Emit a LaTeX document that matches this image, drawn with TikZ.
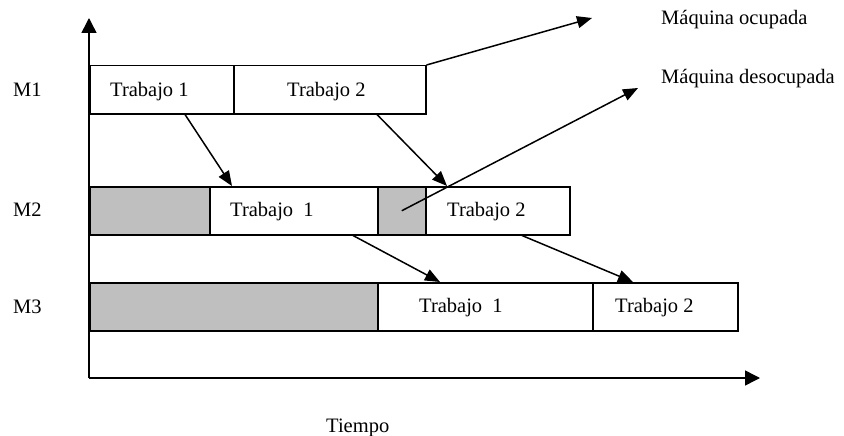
\documentclass[tikz,border=0pt]{standalone}
\usepackage{fontspec}
\setmainfont{Liberation Serif}
\usetikzlibrary{arrows.meta}
\begin{document}
\begin{tikzpicture}[x=1pt,y=-1pt,
  every node/.style={font=\fontsize{20.5}{24}\selectfont},
  job/.style={draw, line width=1.5pt, minimum height=48pt, inner sep=0pt, anchor=north west},
  idle/.style={job, fill=gray!50},
  lbl/.style={anchor=base west, inner sep=0pt},
  link/.style={line width=1.5pt, -{Triangle[length=15pt,width=12pt]}},
  axis/.style={line width=1.5pt, -{Triangle[length=15pt,width=15pt]}}]
\useasboundingbox (0,0) rectangle (844,436);

% axes
\coordinate (o) at (89,378);
\coordinate (ytip) at (89,18);
\coordinate (xtip) at (760,378);
\draw[axis] (o) -- (ytip);
\draw[axis] (o) -- (xtip);

% machine 1
\node[job, minimum width=144pt] (a1) at (89,65) {};
\node[job, minimum width=192pt] (a2) at (233,65) {};
% machine 2
\node[idle, minimum width=120pt] (b0) at (89,186) {};
\node[job, minimum width=168pt] (b1) at (209,186) {};
\node[idle, minimum width=48pt] (bg) at (377,186) {};
\node[job, minimum width=144pt] (b2) at (425,186) {};
% machine 3
\node[idle, minimum width=288pt] (c0) at (89,282) {};
\node[job, minimum width=215pt] (c1) at (377,282) {};
\node[job, minimum width=145pt] (c2) at (592,282) {};

% job texts
\node[lbl] (ta1) at (110,96.7) {Trabajo 1};
\node[lbl] (ta2) at (287,96.7) {Trabajo 2};
\node[lbl] (tb1) at (230,216.7) {Trabajo\ \ 1};
\node[lbl] (tb2) at (447,216.7) {Trabajo 2};
\node[lbl] (tc1) at (419,312) {Trabajo\ \ 1};
\node[lbl] (tc2) at (615,312) {Trabajo 2};

% machine names
\node[lbl] (m1) at (13,96.7) {M1};
\node[lbl] (m2) at (13,216.7) {M2};
\node[lbl] (m3) at (13,313) {M3};

% time label and legend
\node[lbl] (tiempo) at (326,432) {Tiempo};
\node[lbl] (ocup) at (661,25) {Máquina ocupada};
\node[lbl] (desoc) at (661,84) {Máquina desocupada};
\coordinate (pocup) at (592,18);
\coordinate (pdesoc) at (638,88);

% job precedence
\draw[link] ([xshift=96pt]a1.south west) -- ([xshift=23pt]b1.north west);
\draw[link] ([xshift=144pt]a2.south west) -- ([xshift=22pt]b2.north west);
\draw[link] ([xshift=144pt]b1.south west) -- ([xshift=63pt]c1.north west);
\draw[link] ([xshift=97pt]b2.south west) -- ([xshift=41pt]c2.north west);

% legend pointers
\draw[link] (a2.north east) -- (pocup);
\draw[link] (bg.center) -- (pdesoc);
\end{tikzpicture}
\end{document}
